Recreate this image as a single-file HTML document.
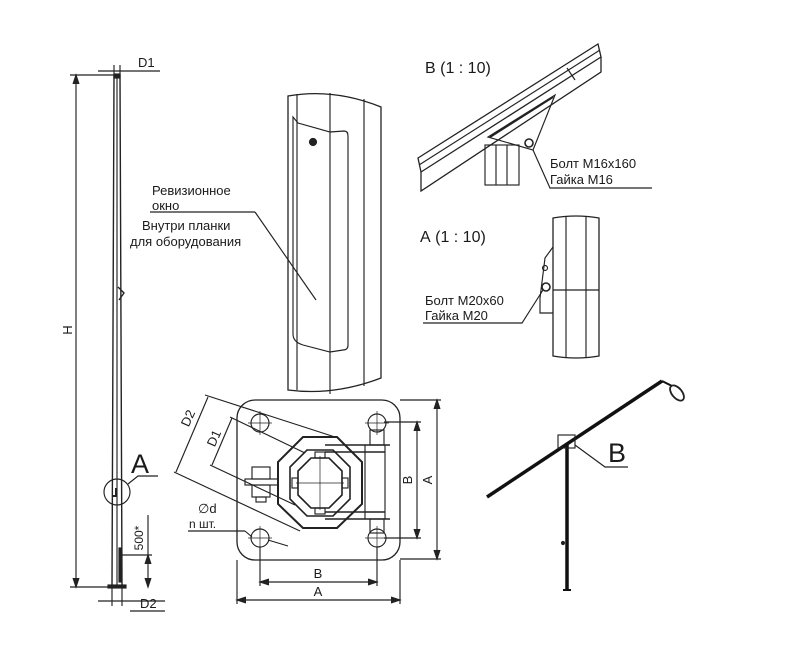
<!DOCTYPE html>
<html><head><meta charset="utf-8"><style>
html,body{margin:0;padding:0;background:#fff}
svg{display:block}
text{font-family:"Liberation Sans",sans-serif;fill:#1a1a1a}
</style></head><body>
<svg width="794" height="664" viewBox="0 0 794 664" xmlns="http://www.w3.org/2000/svg">
<g stroke="#222" fill="none" stroke-width="1.15">
<!-- pole -->
<path d="M114 75 L120 75 L122 586 L112 586 Z" stroke-width="1.4"/>
<line x1="117" y1="76" x2="117" y2="585"/>
<rect x="114" y="74" width="6" height="4" fill="#222"/>
<path d="M118 287 L124 293 L119 300" stroke-width="1.4"/>
<rect x="108" y="585" width="18" height="3" fill="#222"/>
<rect x="119" y="548" width="2.5" height="34" fill="#222"/>
<circle cx="117" cy="492" r="13"/>
<path d="M113 496 L116 496 L116 488" stroke-width="2"/>
<path d="M128 484 L138 476 L158 476"/>
<!-- D1 top -->
<line x1="98" y1="71" x2="160" y2="71"/>
<line x1="114" y1="65" x2="114" y2="75"/><line x1="120" y1="65" x2="120" y2="75"/>
<!-- H -->
<line x1="76" y1="75" x2="76" y2="587"/>
<line x1="70" y1="75" x2="114" y2="75"/><line x1="70" y1="587" x2="110" y2="587"/>
<path d="M73 84 L76 75 L79 84 M73 578 L76 587 L79 578" fill="#222"/>
<!-- 500 -->
<line x1="148" y1="515" x2="148" y2="587"/>
<line x1="121" y1="555" x2="152" y2="555"/>
<path d="M145 564 L148 555 L151 564 M145 578 L148 587 L151 578" fill="#222"/>
<!-- D2 bottom -->
<line x1="112" y1="588" x2="112" y2="606"/><line x1="122" y1="588" x2="122" y2="606"/>
<line x1="98" y1="601" x2="165" y2="601"/>
<line x1="130" y1="611" x2="165" y2="611"/>

<!-- panel -->
<path d="M288 96 Q334 88 381 107 L381 378 Q334 396 288 390 Z" stroke-width="1.3"/>
<line x1="297" y1="94" x2="297" y2="390"/>
<line x1="330" y1="93" x2="330" y2="394"/>
<line x1="364" y1="99" x2="364" y2="386"/>
<path d="M293 117 L298 123 L330 132 L344 131 Q348 131 348 136 L348 345 Q348 350 343 350 L330 352 L303 345 Q293 342 293 334 Z"/>
<circle cx="313" cy="142" r="3.5" fill="#222"/>
<line x1="255" y1="212" x2="316" y2="300"/>
<line x1="150" y1="212" x2="255" y2="212"/>

<!-- base plate -->
<rect x="237" y="400" width="163" height="160" rx="18" stroke-width="1.3"/>
<circle cx="260" cy="423" r="9"/><circle cx="377" cy="423" r="9"/>
<circle cx="260" cy="538" r="9"/><circle cx="377" cy="538" r="9"/>
<g stroke-width="0.7">
<line x1="248" y1="423" x2="272" y2="423"/><line x1="260" y1="411" x2="260" y2="435"/>
<line x1="248" y1="538" x2="272" y2="538"/><line x1="260" y1="526" x2="260" y2="550"/>
<line x1="365" y1="423" x2="389" y2="423"/><line x1="377" y1="411" x2="377" y2="435"/>
<line x1="365" y1="538" x2="389" y2="538"/><line x1="377" y1="526" x2="377" y2="550"/>
</g>
<polygon points="303,437 337,437 362,462 362,504 337,528 303,528 278,504 278,462" stroke-width="2"/>
<polygon points="307,450 333,450 350,467 350,499 333,516 307,516 290,499 290,467" stroke-width="1.6"/>
<polygon points="311,458 329,458 342,471 342,495 329,508 311,508 298,495 298,471" stroke-width="1.6"/>
<line x1="296" y1="483" x2="344" y2="483" stroke-width="0.7"/><line x1="320" y1="456" x2="320" y2="510" stroke-width="0.7"/>
<rect x="315" y="452" width="10" height="6"/><rect x="315" y="508" width="10" height="6"/>
<rect x="292" y="478" width="6" height="10"/><rect x="342" y="478" width="6" height="10"/>
<path d="M325 445 L390 445 M325 452 L385 452 M325 512 L385 512 M325 519 L390 519" stroke-width="1.5"/>
<line x1="365" y1="445" x2="365" y2="519"/><line x1="385" y1="445" x2="385" y2="519"/>
<rect x="370" y="430" width="14" height="15"/><rect x="370" y="519" width="14" height="14"/>
<rect x="252" y="467" width="18" height="12"/><rect x="245" y="479" width="33" height="6"/><rect x="252" y="485" width="18" height="12"/><rect x="256" y="497" width="10" height="5"/>
<!-- dims right -->
<line x1="437" y1="400" x2="437" y2="559"/>
<line x1="400" y1="400" x2="441" y2="400"/><line x1="400" y1="559" x2="441" y2="559"/>
<path d="M434 409 L437 400 L440 409 M434 550 L437 559 L440 550" fill="#222"/>
<line x1="417" y1="422" x2="417" y2="538"/>
<line x1="384" y1="422" x2="421" y2="422"/><line x1="384" y1="538" x2="421" y2="538"/>
<path d="M414 431 L417 422 L420 431 M414 529 L417 538 L420 529" fill="#222"/>
<!-- dims bottom -->
<line x1="260" y1="547" x2="260" y2="586"/><line x1="377" y1="547" x2="377" y2="586"/>
<line x1="260" y1="582" x2="377" y2="582"/>
<path d="M269 579 L260 582 L269 585 M368 579 L377 582 L368 585" fill="#222"/>
<line x1="237" y1="560" x2="237" y2="604"/><line x1="400" y1="560" x2="400" y2="604"/>
<line x1="237" y1="600" x2="400" y2="600"/>
<path d="M246 597 L237 600 L246 603 M391 597 L400 600 L391 603" fill="#222"/>
<!-- D2 D1 diag -->
<line x1="208" y1="397" x2="176" y2="472"/>
<line x1="174" y1="472" x2="300" y2="531"/>
<line x1="205" y1="395" x2="335" y2="437"/>
<line x1="232" y1="418" x2="212" y2="465"/>
<line x1="230" y1="417" x2="305" y2="453"/>
<line x1="210" y1="465" x2="295" y2="505"/>
<line x1="188" y1="531" x2="245" y2="531"/>
<line x1="245" y1="531" x2="252" y2="537"/>
<line x1="268" y1="540" x2="288" y2="546"/>

<!-- B detail -->
<path d="M418 158 L598 44 L601 57 L421 172 Z" stroke-width="1.3"/>
<path d="M421 172 L421 191 L601 72 L601 57" stroke-width="1.3"/>
<line x1="419" y1="165" x2="600" y2="50"/>
<line x1="567" y1="68" x2="575" y2="80"/>
<path d="M488 137 L555 95 L533 150 Z" />
<line x1="490" y1="137" x2="553" y2="97" stroke-width="2"/>
<rect x="485" y="145" width="34" height="40"/>
<line x1="496" y1="145" x2="496" y2="185"/><line x1="507" y1="145" x2="507" y2="185"/>
<circle cx="529" cy="143" r="4" stroke-width="1.6"/>
<path d="M533 150 L550 188 L652 188"/>
<!-- A detail -->
<path d="M553 218 Q576 214 599 218 L599 356 Q576 360 553 356 Z" stroke-width="1.3"/>
<line x1="566" y1="216" x2="566" y2="358"/><line x1="586" y1="216" x2="586" y2="358"/>
<line x1="553" y1="290" x2="599" y2="290"/>
<path d="M553 247 L545 258 L540 298 L540 313 L553 313" />
<circle cx="545" cy="268" r="2.5"/>
<circle cx="546" cy="287" r="4" stroke-width="1.6"/>
<path d="M543 290 L522 323 L423 323"/>

<!-- right pole -->
<line x1="487" y1="497" x2="662" y2="381" stroke="#111" stroke-width="3.5"/>
<line x1="567" y1="445" x2="567" y2="590" stroke="#111" stroke-width="3.5"/>
<line x1="563" y1="590" x2="571" y2="590" stroke="#111" stroke-width="2"/>
<rect x="558" y="435" width="17" height="13"/>
<path d="M575 445 L605 467 L628 467"/>
<path d="M662 381 L672 386" stroke="#111" stroke-width="2"/>
<ellipse cx="677" cy="393" rx="5" ry="9" transform="rotate(-40 677 393)" stroke-width="1.8"/>
<circle cx="563" cy="543" r="1.5" fill="#222"/>
</g>
<g>
<text x="138" y="67" font-size="13">D1</text>
<text x="140" y="608" font-size="13">D2</text>
<text x="131" y="473" font-size="27">A</text>
<text transform="translate(72,330) rotate(-90)" font-size="13" text-anchor="middle">H</text>
<text transform="translate(143,538) rotate(-90)" font-size="12" text-anchor="middle">500*</text>
<text x="152" y="195" font-size="13">Ревизионное</text>
<text x="152" y="210" font-size="13">окно</text>
<text x="142" y="230" font-size="13">Внутри планки</text>
<text x="130" y="246" font-size="13">для оборудования</text>
<text transform="translate(192,420) rotate(-66)" font-size="13" text-anchor="middle">D2</text>
<text transform="translate(218,440) rotate(-66)" font-size="13" text-anchor="middle">D1</text>
<text x="198" y="513" font-size="13">∅d</text>
<text x="189" y="528" font-size="12">n шт.</text>
<text transform="translate(412,480) rotate(-90)" font-size="13" text-anchor="middle">B</text>
<text transform="translate(432,480) rotate(-90)" font-size="13" text-anchor="middle">A</text>
<text x="318" y="578" font-size="13" text-anchor="middle">B</text>
<text x="318" y="596" font-size="13" text-anchor="middle">A</text>
<text x="425" y="73" font-size="16">В (1 : 10)</text>
<text x="550" y="168" font-size="13">Болт М16х160</text>
<text x="550" y="184" font-size="13">Гайка М16</text>
<text x="420" y="242" font-size="16">А (1 : 10)</text>
<text x="425" y="305" font-size="13">Болт М20х60</text>
<text x="425" y="320" font-size="13">Гайка М20</text>
<text x="608" y="462" font-size="27">B</text>
</g>
</svg>
</body></html>
